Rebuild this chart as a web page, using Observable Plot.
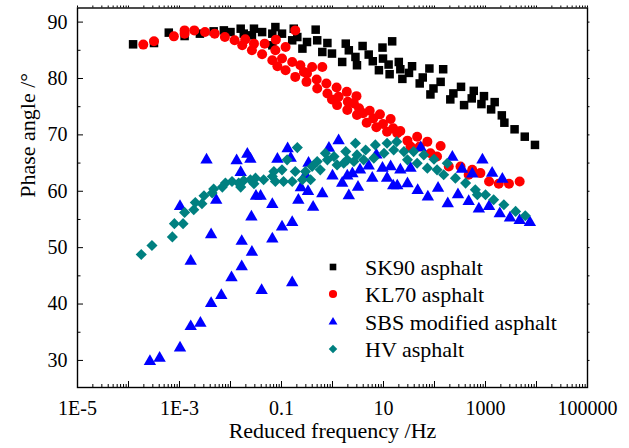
<!DOCTYPE html>
<html><head><meta charset="utf-8">
<script src="https://cdn.jsdelivr.net/npm/d3@7"></script>
<script src="https://cdn.jsdelivr.net/npm/@observablehq/plot@0.6"></script>
<style>
body{margin:0;background:#fff;}
#wrap{position:relative;width:629px;height:448px;}
#legend{position:absolute;left:0;top:0;pointer-events:none;}
</style></head><body><div id="wrap"></div>
<script>
const sk90LogFreq = [-3.91,-3.50,-3.21,-2.90,-2.60,-2.33,-2.13,-2.00,-1.80,-1.74,-1.54,-1.58,-1.38,-1.18,-1.12,-0.99,-1.18,-0.76,-0.79,-0.69,-0.59,-0.50,-0.33,-0.30,-0.20,-0.10,-0.01,0.19,0.26,0.32,0.45,0.48,0.59,0.71,0.79,0.91,0.98,0.99,1.10,1.12,1.17,1.30,1.33,1.37,1.50,1.56,1.71,1.77,1.90,1.92,1.98,2.12,2.17,2.31,2.37,2.52,2.58,2.73,2.77,2.92,2.97,3.11,3.18,3.32,3.37,3.57,3.77,3.97];
const sk90Phase   = [86.06,86.29,88.13,87.53,87.95,88.36,88.53,88.23,88.83,87.95,88.83,87.65,88.23,87.95,89.12,87.95,85.88,88.83,86.77,87.35,85.30,86.47,88.66,86.77,84.70,86.29,84.42,82.93,86.18,85.00,83.82,82.35,85.76,84.24,83.06,81.47,85.48,83.53,82.47,80.76,86.59,82.93,81.64,79.93,80.99,82.17,79.12,80.18,81.77,77.17,78.23,79.40,81.64,76.29,77.35,78.52,75.28,76.47,77.81,75.46,76.87,74.52,75.81,73.46,72.16,70.99,69.68,68.22];

const kl70LogFreq = [-3.71,-3.50,-3.11,-2.90,-2.90,-2.71,-2.50,-2.31,-2.11,-1.92,-1.77,-1.71,-1.58,-1.54,-1.38,-1.33,-1.18,-1.12,-1.11,-1.08,-0.99,-0.92,-0.92,-0.79,-0.73,-0.73,-0.63,-0.56,-0.51,-0.50,-0.40,-0.31,-0.30,-0.20,-0.12,-0.10,-0.01,0.08,0.09,0.12,0.28,0.30,0.29,0.42,0.47,0.48,0.52,0.60,0.67,0.73,0.80,0.86,0.93,0.99,1.07,1.14,1.19,1.27,1.33,1.47,1.53,1.66,1.71,1.86,1.92,2.12,2.05,2.28,2.51,2.67,2.74,2.90,3.07,3.26,3.46,3.67];
const kl70Phase   = [86.01,86.59,87.47,88.53,87.95,88.53,88.23,87.95,87.35,86.77,85.88,86.94,85.00,86.18,84.29,86.18,83.23,85.00,86.89,82.17,83.53,85.58,81.47,82.93,88.53,80.28,82.35,81.17,79.40,80.88,82.05,79.82,78.23,82.05,79.12,77.35,76.29,78.41,75.28,76.75,77.63,75.87,74.40,75.58,76.87,73.52,74.70,73.82,72.16,74.28,72.93,71.34,73.64,71.93,70.57,72.81,71.17,70.28,70.69,68.98,67.92,69.68,67.92,68.80,66.75,68.04,66.15,64.38,64.38,62.92,63.80,63.22,61.73,61.33,61.33,61.73];

const sbsLogFreq = [-3.58,-3.39,-2.99,-2.78,-2.59,-2.38,-2.18,-1.98,-1.78,-2.78,-1.39,-0.79,-1.58,-1.78,-1.18,-2.38,-0.99,-0.79,-1.59,-2.99,-1.18,-0.38,-2.28,-0.67,-1.50,-1.41,-0.48,-0.20,0.32,-0.62,0.50,0.19,-0.53,0.00,0.29,0.39,-1.80,0.54,0.71,0.78,-0.47,-2.47,-1.88,-1.61,-1.08,-0.82,-1.67,0.86,-0.88,-0.07,0.12,0.98,1.07,1.14,1.19,1.27,1.33,1.47,1.53,1.67,1.73,1.87,2.07,2.26,2.35,2.46,2.54,2.67,2.74,2.87,2.94,3.07,3.13,3.28,3.33,3.48,3.67,3.87];
const sbsPhase   = [29.82,30.41,32.23,36.01,36.59,40.12,41.54,44.66,46.61,47.60,42.42,43.78,49.19,51.13,51.55,52.31,53.67,54.49,55.44,57.31,57.67,57.17,58.44,58.44,59.15,59.15,59.96,59.59,59.20,60.65,60.74,61.45,62.92,62.74,62.74,63.14,63.36,63.80,64.50,62.33,64.98,65.57,65.44,65.69,65.69,65.87,66.57,66.45,67.54,67.63,68.96,64.10,62.33,64.38,60.97,60.97,63.80,61.33,64.10,60.14,67.74,58.98,60.57,57.79,66.04,59.38,63.92,58.20,63.09,56.86,65.57,57.31,63.22,56.02,62.15,55.27,54.84,54.49];

const hvLogFreq = [-3.75,-3.54,-3.14,-3.10,-2.93,-2.90,-2.72,-2.69,-2.56,-2.52,-2.36,-2.33,-2.16,-2.10,-1.97,-1.84,-1.80,-1.74,-1.61,-1.54,-1.51,-1.35,-1.18,-1.15,-1.12,-0.99,-0.96,-0.89,-0.79,-0.73,-0.69,-0.59,-0.53,-0.43,-0.40,-0.30,-0.24,-0.14,-0.10,0.03,0.09,0.26,0.29,0.45,0.48,0.22,0.42,0.65,0.61,0.84,0.81,1.01,1.07,1.20,1.26,1.40,1.47,1.59,1.66,1.79,1.86,1.99,2.05,2.25,2.18,2.41,2.61,2.80,2.84,3.00,3.16,3.36,3.59,3.78];
const hvPhase   = [48.78,50.37,51.91,54.26,54.26,56.25,56.73,58.02,57.79,59.20,59.68,60.39,60.74,61.45,61.73,61.45,60.74,61.91,62.03,61.33,62.33,62.03,62.61,63.50,61.73,63.80,61.73,65.57,61.73,63.50,67.74,62.03,63.50,62.03,64.38,65.27,63.80,66.75,65.57,66.15,64.68,67.03,65.57,68.52,66.45,64.98,65.27,67.33,65.57,68.22,65.87,66.75,68.52,67.33,68.80,67.03,65.57,67.03,64.98,66.45,64.10,65.69,63.80,64.98,62.92,62.33,61.45,60.27,59.38,59.38,58.50,57.61,56.43,55.67];

const seriesNames = ["SK90 asphalt","KL70 asphalt","SBS modified asphalt","HV asphalt"];
const xTickValues = [1e-5,1e-3,0.1,10,1000,1e5];
const xTickLabels = ["1E-5","1E-3","0.1","10","1000","100000"];
const yTickValues = [30,40,50,60,70,80,90];
const xTitle = "Reduced frequency /Hz";
const yTitle = "Phase angle /°";

const FONT = '"Liberation Serif", "Times New Roman", serif';
const styles = [
  {symbol:"square",   color:"#000000", r:4.8, lgSize:44},
  {symbol:"circle",   color:"#ff0000", r:5.0, lgSize:52},
  {symbol:"triangle", color:"#0000ff", r:4.6, lgSize:34},
  {symbol:"diamond2", color:"#008080", r:5.0, lgSize:46}
];
const raw = [[sk90LogFreq,sk90Phase],[kl70LogFreq,kl70Phase],[sbsLogFreq,sbsPhase],[hvLogFreq,hvPhase]];
const tables = raw.map(([lf,ph],k)=>lf.map((v,i)=>({series:seriesNames[k], freq:Math.pow(10,v), phase:ph[i]})));

const W=629,H=448,mL=77,mR=42,mT=7.5,mB=61;
const fW=W-mL-mR, fH=H-mT-mB;
const xMajor = d3.range(-5,6).map(e=>Math.pow(10,e));
const xMinor = d3.range(-5,5).flatMap(e=>d3.range(2,10).map(k=>k*Math.pow(10,e)));
const yMinor = [35,45,55,65,75,85];
const xLabelMap = new Map(xTickValues.map((v,i)=>[v,xTickLabels[i]]));

const chart = Plot.plot({
  width:W, height:H, marginLeft:mL, marginRight:mR, marginTop:mT, marginBottom:mB,
  style:{fontFamily:FONT, background:"white", color:"black", overflow:"visible"},
  x:{type:"log", domain:[1e-5,1e5], axis:null},
  y:{domain:[25.2,92.5], axis:null},
  marks:[
    ...tables.map((t,k)=>Plot.dot(t,{x:"freq", y:"phase", symbol:styles[k].symbol, fill:styles[k].color, r:styles[k].r})),
    Plot.ruleX(xMajor,{x:d=>d, insetTop:fH-6, stroke:"black", strokeWidth:1}),
    Plot.ruleX(xMinor,{x:d=>d, insetTop:fH-3, stroke:"black", strokeWidth:1}),
    Plot.ruleX(xMajor.concat(xMinor),{x:d=>d, insetBottom:fH, insetTop:-2, stroke:"black", strokeWidth:1}),
    Plot.ruleY(yTickValues,{y:d=>d, insetRight:fW-6, stroke:"black", strokeWidth:1}),
    Plot.ruleY(yMinor,{y:d=>d, insetRight:fW-3.5, stroke:"black", strokeWidth:1}),
    Plot.ruleY(yTickValues.concat(yMinor),{y:d=>d, insetLeft:fW, insetRight:-2.5, stroke:"black", strokeWidth:1}),
    Plot.frame({stroke:"black", strokeWidth:1.4}),
    Plot.axisX(xTickValues,{tickSize:0, tickPadding:13, tickFormat:d=>xLabelMap.get(d), fontSize:20, label:null}),
    Plot.axisY(yTickValues,{tickSize:0, tickPadding:10, tickFormat:d=>String(d), fontSize:20, label:null}),
    Plot.text([xTitle],{text:d=>d, frameAnchor:"bottom", dy:50, fontSize:22, fill:"black"}),
    Plot.text([yTitle],{text:d=>d, frameAnchor:"left", dx:-50, rotate:-90, fontSize:22, fill:"black"})
  ]
});
const wrap = document.getElementById("wrap");
wrap.appendChild(chart);

// legend overlay (inside plot area)
const legendRowsY = [267,294,322,349];
const symMap = {square:d3.symbolSquare, circle:d3.symbolCircle, triangle:d3.symbolTriangle, diamond2:d3.symbolDiamond2};
const lg = d3.select(wrap).append("svg").attr("id","legend").attr("width",W).attr("height",H);
seriesNames.forEach((name,k)=>{
  const g = lg.append("g").attr("transform",`translate(333,${legendRowsY[k]})`);
  g.append("path").attr("d", d3.symbol(symMap[styles[k].symbol], styles[k].lgSize)()).attr("fill", styles[k].color);
  g.append("text").attr("x",32).attr("y",0).attr("dy","0.35em")
    .attr("font-family",FONT).attr("font-size",22).attr("fill","black").text(name);
});
</script></body></html>
